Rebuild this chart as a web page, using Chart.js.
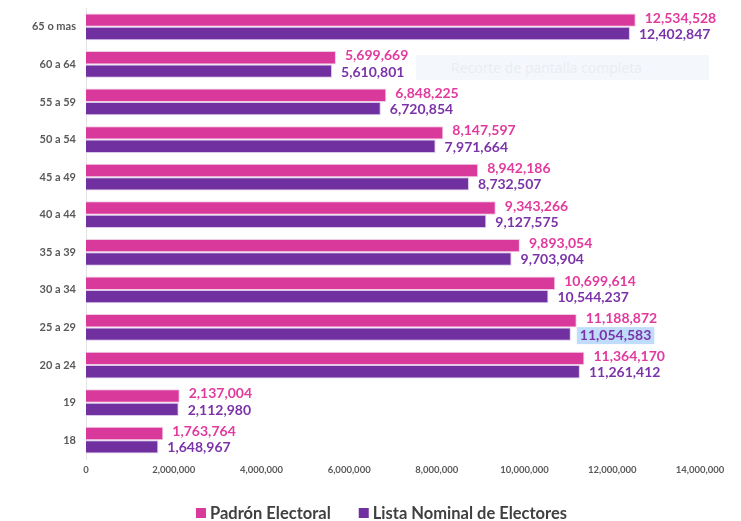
<!DOCTYPE html>
<html><head><meta charset="utf-8">
<script src="https://cdn.jsdelivr.net/npm/chart.js@4"></script>
<style>
html,body{margin:0;padding:0;background:#fff;}
#wrap{position:relative;width:741px;height:521px;}
#snip{position:absolute;left:416px;top:55px;width:293px;height:25px;background:#F4F8FD;color:#ECECF0;font-family:'Open Sans',sans-serif;font-size:14px;line-height:25px;padding-left:35px;box-sizing:border-box;}
</style></head>
<body><div id="wrap"><canvas id="c" width="741" height="521"></canvas><div id="snip">Recorte de pantalla completa</div></div>
<script>
const categories = ["65 o mas","60 a 64","55 a 59","50 a 54","45 a 49","40 a 44","35 a 39","30 a 34","25 a 29","20 a 24","19","18"];
const padron = [12534528,5699669,6848225,8147597,8942186,9343266,9893054,10699614,11188872,11364170,2137004,1763764];
const listaNominal = [12402847,5610801,6720854,7971664,8732507,9127575,9703904,10544237,11054583,11261412,2112980,1648967];
const seriesNames = ["Padrón Electoral","Lista Nominal de Electores"];
const xTicks = {min:0,max:14000000,step:2000000};

const pink = '#D9399B', purple = '#7030A0';
const pinkText = '#E2399C', purpleText = '#7A33A8';
const fmt = v => v.toLocaleString('en-US');

const labelPlugin = {
  id:'valueLabels',
  afterDatasetsDraw(chart){
    const ctx = chart.ctx;
    ctx.save();
    ctx.font = 'bold 14px Lato, sans-serif';
    ctx.textBaseline = 'middle';
    ctx.textAlign = 'left';
    chart.data.datasets.forEach((ds,di)=>{
      const meta = chart.getDatasetMeta(di);
      meta.data.forEach((bar,i)=>{
        const txt = fmt(ds.data[i]);
        const x = bar.x + 9;
        const y = bar.y + (di===0 ? -2 : 1);
        if(di===1 && i===8){
          const w = ctx.measureText(txt).width;
          ctx.fillStyle = '#BFDDFB';
          ctx.fillRect(x-3, y-8, w+6, 17);
        }
        ctx.fillStyle = di===0 ? pinkText : purpleText;
        ctx.fillText(txt, x, y);
      });
    });
    ctx.restore();
  },
  afterDraw(chart){
    const ctx = chart.ctx;
    ctx.save();
    ctx.font = 'bold 16.5px Lato, sans-serif';
    ctx.textBaseline = 'middle';
    const box = 10, gapBoxText = 4, gapItems = 28;
    const items = chart.data.datasets.map(d=>({t:d.label,c:d.backgroundColor,w:ctx.measureText(d.label).width}));
    const total = items.reduce((s,it)=>s+box+gapBoxText+it.w,0) + gapItems*(items.length-1);
    let x = chart.width/2 + 11 - total/2;
    const y = 513;
    items.forEach(it=>{
      ctx.fillStyle = it.c;
      ctx.fillRect(x, y-5, box, box);
      x += box + gapBoxText;
      ctx.fillStyle = '#404040';
      ctx.fillText(it.t, x, y+1);
      x += it.w + gapItems;
    });
    ctx.restore();
  }
};

new Chart(document.getElementById('c'),{
  type:'bar',
  data:{
    labels:categories,
    datasets:[
      {label:seriesNames[0],data:padron,backgroundColor:pink,borderColor:'rgba(240,200,225,0.9)',borderWidth:1,categoryPercentage:0.71,barPercentage:1.0},
      {label:seriesNames[1],data:listaNominal,backgroundColor:purple,borderColor:'rgba(215,195,235,0.9)',borderWidth:1,categoryPercentage:0.71,barPercentage:1.0}
    ]
  },
  options:{
    indexAxis:'y',
    responsive:false,
    animation:false,
    layout:{padding:{left:0,right:41,top:8,bottom:26}},
    scales:{
      x:{
        min:xTicks.min,max:xTicks.max,
        ticks:{stepSize:xTicks.step,color:'#595959',font:{family:'Lato, sans-serif',size:9.5,weight:'bold'},padding:5,callback:v=>fmt(v),maxRotation:0},
        grid:{display:false,drawTicks:false},
        border:{display:false},
        afterFit(s){s.height=36;}
      },
      y:{
        ticks:{color:'#595959',font:{family:'Lato, sans-serif',size:11,weight:'bold'},padding:10},
        grid:{display:false,drawTicks:false},
        border:{display:true,color:'#E3E3E3',width:1},
        afterFit(s){s.width=86;s.paddingTop=0;s.paddingBottom=0;}
      }
    },
    plugins:{
      legend:{display:false},
      tooltip:{enabled:false}
    }
  },
  plugins:[labelPlugin]
});
</script></body></html>
